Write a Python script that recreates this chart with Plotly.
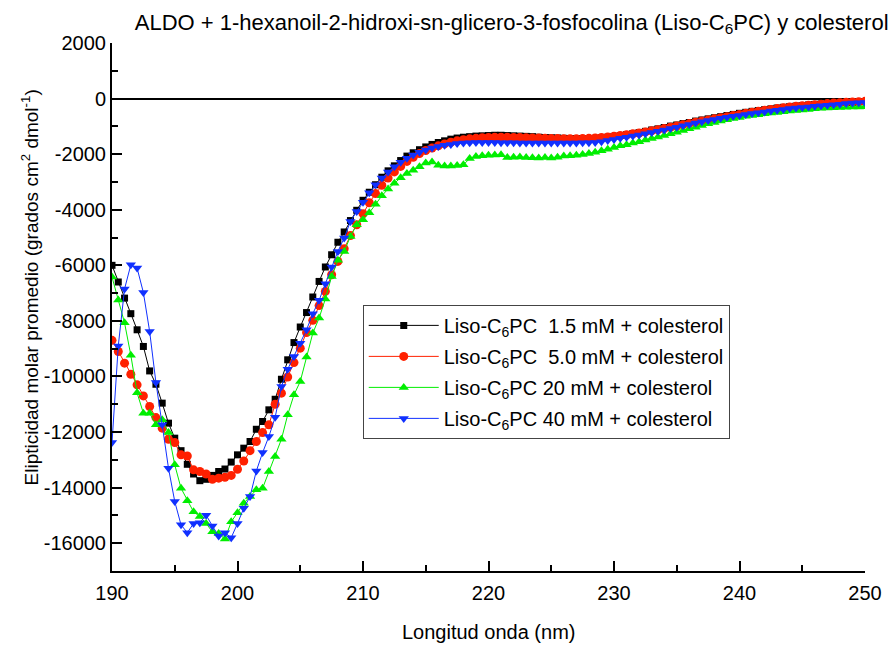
import plotly.graph_objects as go

# Wavelength grid (nm), 0.5 nm steps from 190 to 250
wavelength = [190 + 0.5 * i for i in range(121)]

# Mean molar ellipticity for each Liso-C6PC concentration (+ cholesterol)
liso_1_5mM = [
    -6000, -6600, -7180, -7740, -8320, -8920, -9800, -10280, -10960, -11680,
    -12220, -12670, -13160, -13510, -13750, -13700, -13560, -13420, -13330, -13080,
    -12820, -12580, -12340, -11900, -11620, -11200, -10820, -10100, -9400, -8780,
    -8220, -7700, -7140, -6580, -6060, -5620, -5170, -4800, -4390, -4020,
    -3660, -3370, -3100, -2830, -2600, -2420, -2230, -2070, -1950, -1840,
    -1740, -1650, -1580, -1520, -1460, -1420, -1390, -1370, -1350, -1340,
    -1330, -1320, -1320, -1330, -1340, -1350, -1360, -1370, -1390, -1400,
    -1410, -1420, -1430, -1440, -1440, -1440, -1440, -1430, -1410, -1390,
    -1360, -1330, -1300, -1260, -1220, -1180, -1130, -1090, -1040, -990,
    -950, -900, -860, -810, -770, -730, -690, -650, -610, -570,
    -530, -495, -460, -430, -400, -370, -340, -315, -290, -270,
    -250, -230, -210, -195, -180, -165, -150, -140, -130, -120,
    -110,
]

liso_5_0mM = [
    -8700, -9100, -9520, -9920, -10300, -10700, -11080, -11480, -11860, -12260,
    -12380, -12820, -12860, -13360, -13420, -13510, -13700, -13660, -13630, -13560,
    -13340, -13040, -12670, -12340, -12020, -11740, -11000, -10600, -10020, -9500,
    -8980, -8420, -7980, -7450, -6940, -6340, -5860, -5400, -4930, -4540,
    -4140, -3750, -3420, -3120, -2860, -2640, -2440, -2260, -2110, -1980,
    -1870, -1780, -1700, -1630, -1570, -1520, -1480, -1450, -1430, -1410,
    -1400, -1390, -1390, -1390, -1400, -1400, -1410, -1420, -1420, -1430,
    -1440, -1440, -1450, -1450, -1450, -1440, -1430, -1420, -1400, -1380,
    -1360, -1330, -1300, -1270, -1240, -1200, -1160, -1120, -1080, -1030,
    -990, -940, -900, -850, -810, -770, -730, -690, -650, -610,
    -570, -530, -490, -460, -420, -390, -360, -330, -300, -280,
    -260, -240, -220, -200, -180, -160, -150, -130, -120, -110,
    -100,
]

liso_20mM = [
    -6420, -7250, -8070, -9240, -10590, -11320, -11320, -11740, -11560, -12020,
    -13180, -14020, -14470, -14870, -15040, -15290, -15590, -15650, -15850, -15230,
    -14900, -14560, -14320, -14080, -14020, -13420, -12880, -12260, -11380, -10660,
    -10180, -9300, -8440, -7900, -7210, -6400, -5820, -5500, -4960, -4540,
    -4360, -4110, -3800, -3500, -3250, -3050, -2850, -2700, -2580, -2450,
    -2320, -2280, -2400, -2430, -2430, -2410, -2380, -2160, -2080, -2060,
    -2040, -2030, -2020, -2120, -2110, -2100, -2120, -2130, -2140, -2120,
    -2140, -2110, -2070, -2060, -2040, -2010, -1980, -1930, -1880, -1820,
    -1760, -1700, -1660, -1600, -1550, -1490, -1440, -1380, -1330, -1270,
    -1210, -1150, -1090, -1030, -970, -910, -860, -810, -760, -720,
    -680, -640, -610, -580, -550, -520, -500, -470, -450, -430,
    -410, -390, -370, -350, -340, -330, -320, -310, -300, -300,
    -290,
]

liso_40mM = [
    -12380, -8900, -6850, -5980, -6100, -6980, -8380, -10220, -11740, -13300,
    -14500, -15340, -15620, -15290, -15260, -14990, -15380, -15740, -15620, -15800,
    -15290, -14740, -14320, -13400, -12740, -12160, -11470, -10360, -9740, -9280,
    -8800, -8320, -7740, -7260, -6660, -6060, -5500, -5020, -4420, -4060,
    -3730, -3390, -3100, -2860, -2640, -2450, -2290, -2150, -2030, -1930,
    -1850, -1780, -1720, -1680, -1650, -1620, -1600, -1590, -1580, -1580,
    -1580, -1580, -1590, -1590, -1590, -1600, -1600, -1600, -1600, -1600,
    -1600, -1600, -1600, -1600, -1600, -1590, -1590, -1580, -1550, -1510,
    -1470, -1430, -1390, -1350, -1310, -1270, -1220, -1180, -1130, -1080,
    -1030, -980, -930, -880, -830, -790, -750, -710, -670, -640,
    -610, -570, -540, -510, -480, -450, -420, -390, -360, -340,
    -320, -300, -280, -260, -240, -220, -200, -180, -160, -150,
    -140,
]

series_names = [
    "Liso-C<sub>6</sub>PC\u00a0\u00a01.5 mM + colesterol",
    "Liso-C<sub>6</sub>PC\u00a0\u00a05.0 mM + colesterol",
    "Liso-C<sub>6</sub>PC 20 mM + colesterol",
    "Liso-C<sub>6</sub>PC 40 mM + colesterol",
]

x_ticks = [190, 200, 210, 220, 230, 240, 250]
y_ticks = [2000, 0, -2000, -4000, -6000, -8000, -10000, -12000, -14000, -16000]
y_tick_text = [str(v) for v in y_ticks]

FONT = "Liberation Sans, Arial, sans-serif"

styles = [
    dict(color="#000000", symbol="square", size=7),
    dict(color="#ff2000", symbol="circle", size=9),
    dict(color="#00ee00", symbol="triangle-up", size=9),
    dict(color="#1030ff", symbol="triangle-down", size=9),
]

fig = go.Figure()
for i, (ys, name, st) in enumerate(zip([liso_1_5mM, liso_5_0mM, liso_20mM, liso_40mM],
                                       series_names, styles)):
    fig.add_trace(go.Scatter(
        x=wavelength, y=ys, name=name, mode="lines+markers",
        legendgroup=f"g{i}",
        line=dict(color=st["color"], width=1),
        marker=dict(color=st["color"], symbol=st["symbol"], size=st["size"],
                    line=dict(width=0)),
    ))

axis_common = dict(
    showgrid=False, showline=True, linecolor="black", linewidth=2,
    ticks="inside", ticklen=10, tickwidth=2, tickcolor="black",
    tickfont=dict(family=FONT, size=20, color="black"),
    mirror=False,
)

fig.update_xaxes(
    range=[190, 250], tickvals=x_ticks, zeroline=False, ticklabelstandoff=3,
    minor=dict(tickmode="linear", tick0=190, dtick=5, ticks="inside",
               ticklen=6, tickwidth=2, tickcolor="black"),
    **axis_common,
)
fig.update_yaxes(
    range=[-17000, 2000], tickvals=y_ticks, ticktext=y_tick_text,
    zeroline=True, zerolinecolor="black", zerolinewidth=2,
    minor=dict(tickmode="linear", tick0=0, dtick=1000, ticks="inside",
               ticklen=6, tickwidth=2, tickcolor="black"),
    **axis_common,
)

fig.update_layout(
    width=893, height=645,
    margin=dict(l=112, r=28, t=43, b=74),
    plot_bgcolor="white", paper_bgcolor="white",
    font=dict(family=FONT, color="black"),
    title=dict(
        text="ALDO + 1-hexanoil-2-hidroxi-sn-glicero-3-fosfocolina (Liso-C<sub>6</sub>PC) y colesterol",
        font=dict(family=FONT, size=22, color="black"),
        xref="container", x=0.995, xanchor="right",
        yref="container", y=0.966, yanchor="middle",
    ),
    legend=dict(
        x=0.333, y=0.504, xanchor="left", yanchor="top",
        bgcolor="white", bordercolor="#444444", borderwidth=1,
        font=dict(family=FONT, size=20, color="black"),
        itemwidth=70, tracegroupgap=2,
    ),
    annotations=[
        dict(text="Longitud onda (nm)", xref="paper", yref="paper",
             x=0.5, y=0, yanchor="middle", yshift=-61, showarrow=False,
             font=dict(family=FONT, size=20, color="black")),
        dict(text="Elipticidad molar promedio (grados cm<sup>2</sup> dmol<sup>-1</sup>)",
             xref="paper", yref="paper", x=0, y=0.537, xanchor="center",
             yanchor="middle", xshift=-82, textangle=-90, showarrow=False,
             font=dict(family=FONT, size=19, color="black")),
    ],
)

fig.write_html("out.html")
